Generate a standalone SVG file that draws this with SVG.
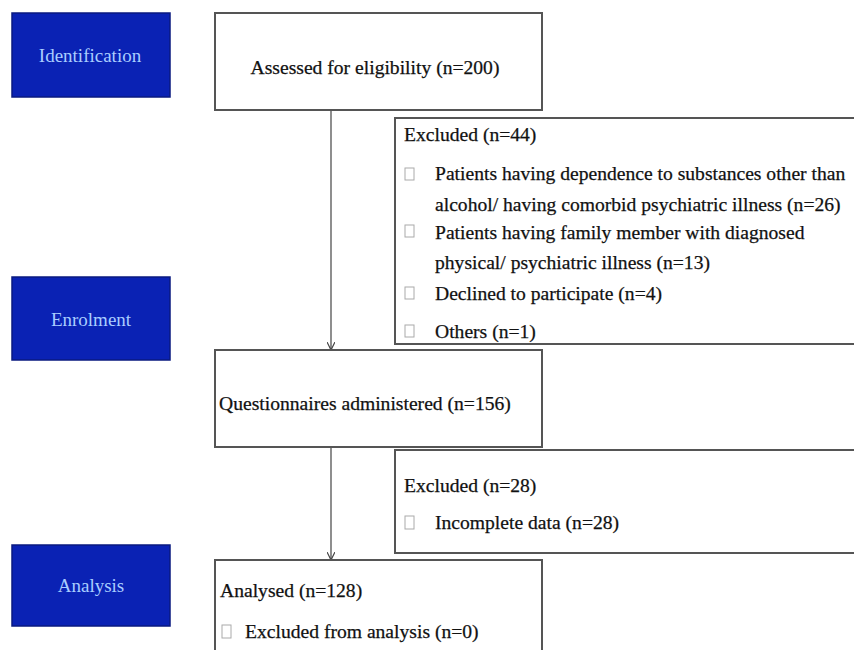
<svg xmlns="http://www.w3.org/2000/svg" width="854" height="650" viewBox="0 0 854 650">
<style>
.stage{fill:#0a22b4;stroke:#0a1a80;stroke-width:1.5}
.stxt{font-family:"Liberation Serif",serif;font-size:19px;fill:#a9cdff;text-anchor:middle}
.box{fill:#fff;stroke:#555;stroke-width:2}
.t{font-family:"Liberation Serif",serif;font-size:19.6px;fill:#111;stroke:#111;stroke-width:0.25}
.bul{fill:#fff;stroke:#aaa;stroke-width:1}
.con{stroke:#444;stroke-width:1.2;fill:none}
</style>
<defs>
<marker id="ah" viewBox="0 0 10 10" refX="10" refY="5" markerWidth="8" markerHeight="8" orient="auto" markerUnits="userSpaceOnUse">
<path d="M0,0 L10,5 L0,10" fill="none" stroke="#444" stroke-width="1.5"/>
</marker>
</defs>
<rect width="854" height="650" fill="#fff"/>
<g id="identification"><rect class="stage" x="12" y="13" width="158" height="84"/><text class="stxt" x="90" y="62">Identification</text></g>
<g id="enrolment"><rect class="stage" x="12" y="277" width="158" height="83"/><text class="stxt" x="91" y="326">Enrolment</text></g>
<g id="analysis"><rect class="stage" x="12" y="545" width="158" height="81"/><text class="stxt" x="91" y="592">Analysis</text></g>
<g id="connectors">
<line class="con" x1="331" y1="110" x2="331" y2="350" marker-end="url(#ah)"/>
<line class="con" x1="331" y1="447" x2="331" y2="560" marker-end="url(#ah)"/>
</g>
<g id="assessed"><rect class="box" x="215" y="13" width="327" height="97"/><text class="t" x="375" y="74" text-anchor="middle">Assessed for eligibility (n=200)</text></g>
<g id="excluded1"><rect class="box" x="395" y="118" width="470" height="226"/>
<text class="t" x="404" y="141">Excluded (n=44)</text>
<rect class="bul" x="405" y="168" width="9" height="12"/>
<text class="t" x="435" y="180">Patients having dependence to substances other than</text>
<text class="t" x="435" y="211">alcohol/ having comorbid psychiatric illness (n=26)</text>
<rect class="bul" x="405" y="225" width="9" height="12"/>
<text class="t" x="435" y="239">Patients having family member with diagnosed</text>
<text class="t" x="435" y="269">physical/ psychiatric illness (n=13)</text>
<rect class="bul" x="405" y="287" width="9" height="12"/>
<text class="t" x="435" y="300">Declined to participate (n=4)</text>
<rect class="bul" x="405" y="325" width="9" height="12"/>
<text class="t" x="435" y="338">Others (n=1)</text>
</g>
<g id="questionnaires"><rect class="box" x="215" y="350" width="327" height="97"/><text class="t" x="219" y="410">Questionnaires administered (n=156)</text></g>
<g id="excluded2"><rect class="box" x="395" y="450" width="470" height="103"/>
<text class="t" x="404" y="492">Excluded (n=28)</text>
<rect class="bul" x="405" y="516" width="9" height="13"/>
<text class="t" x="435" y="529">Incomplete data (n=28)</text>
</g>
<g id="analysed"><rect class="box" x="215" y="560" width="327" height="100"/>
<text class="t" x="220" y="597">Analysed (n=128)</text>
<rect class="bul" x="222" y="625" width="9" height="13"/>
<text class="t" x="245" y="638">Excluded from analysis (n=0)</text>
</g>
</svg>
